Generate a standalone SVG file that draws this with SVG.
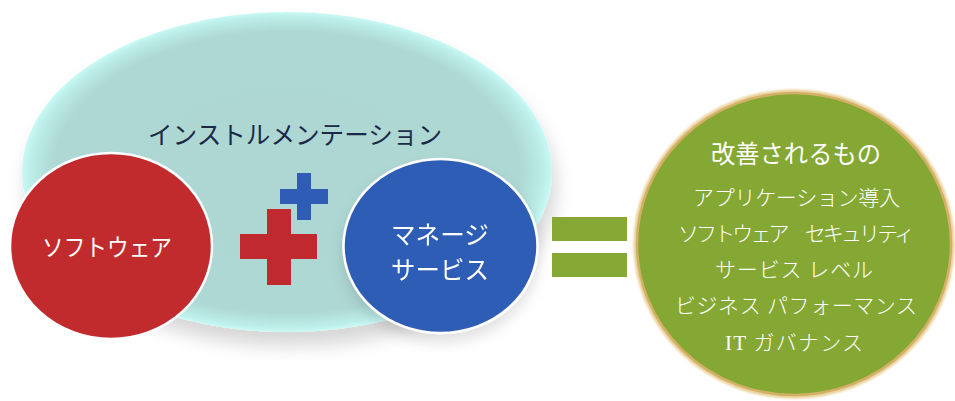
<svg xmlns="http://www.w3.org/2000/svg" width="955" height="401" viewBox="0 0 955 401">
  <defs>
    <radialGradient id="tealFill" cx="0.5" cy="0.5" r="0.5">
      <stop offset="0" stop-color="#aed7d3"/>
      <stop offset="0.88" stop-color="#aed8d4"/>
      <stop offset="0.97" stop-color="#bdeee9"/>
      <stop offset="1" stop-color="#c8faf5"/>
    </radialGradient>
    <filter id="shadow" x="-20%" y="-20%" width="140%" height="150%">
      <feDropShadow dx="4" dy="14" stdDeviation="9" flood-color="#000" flood-opacity="0.16"/>
    </filter>
    <filter id="softShadow" x="-20%" y="-20%" width="140%" height="150%">
      <feDropShadow dx="0" dy="8" stdDeviation="7" flood-color="#000" flood-opacity="0.12"/>
    </filter>
    <filter id="glow" x="-10%" y="-10%" width="120%" height="120%">
      <feGaussianBlur stdDeviation="1.2"/>
    </filter>
    <style>
      .sans { font-family: "Noto Sans CJK JP", "Noto Sans", sans-serif; }
      .serif { font-family: "Liberation Serif", "Noto Sans CJK JP", serif; font-weight: 300; }
      .white { fill: #ffffff; }
      .ring { stroke: #ffffff; stroke-width: 2.5; }
    </style>
  </defs>

  <g id="instrumentation">
    <ellipse cx="287" cy="172" rx="265" ry="160" fill="url(#tealFill)" filter="url(#shadow)"/>
    <text class="sans" x="295" y="144" font-size="25" fill="#1b2a47" text-anchor="middle" textLength="294" lengthAdjust="spacingAndGlyphs">インストルメンテーション</text>
  </g>

  <g id="connectors">
    <g id="plus-blue" fill="#2f5db6">
      <rect x="297" y="173" width="14" height="47"/>
      <rect x="280" y="189" width="48" height="15"/>
    </g>
    <g id="plus-red" fill="#c0292d">
      <rect x="267" y="209" width="24" height="76"/>
      <rect x="240" y="234" width="77" height="25"/>
    </g>
    <g id="equals" fill="#86a936">
      <rect x="552" y="217" width="75" height="24"/>
      <rect x="552" y="253" width="75" height="24"/>
    </g>
  </g>

  <g id="software">
    <ellipse class="ring" cx="111" cy="246" rx="101" ry="93" fill="#c22b2d"/>
    <text class="sans white" x="107" y="256" font-size="24" text-anchor="middle" textLength="130" lengthAdjust="spacingAndGlyphs">ソフトウェア</text>
  </g>

  <g id="managed-services" filter="url(#softShadow)">
    <ellipse class="ring" cx="440.5" cy="246" rx="97" ry="87" fill="#2f5db6"/>
    <text class="sans white" x="440" y="244" font-size="25" text-anchor="middle" textLength="98" lengthAdjust="spacingAndGlyphs">マネージ</text>
    <text class="sans white" x="440" y="279" font-size="25" text-anchor="middle" textLength="98" lengthAdjust="spacingAndGlyphs">サービス</text>
  </g>

  <g id="improvements">
    <ellipse cx="794" cy="244" rx="158.5" ry="152.5" fill="none" stroke="#e8cf95" stroke-width="4" filter="url(#glow)"/>
    <ellipse cx="794" cy="244" rx="157" ry="151" fill="#84a833" stroke="#d4b067" stroke-width="2.5"/>
    <text class="sans white" x="796" y="163" font-size="25" text-anchor="middle" textLength="170" lengthAdjust="spacingAndGlyphs">改善されるもの</text>
    <text class="serif white" x="796.5" y="205" font-size="21" text-anchor="middle" textLength="207">アプリケーション導入</text>
    <text class="serif white" x="796.5" y="241" font-size="21" text-anchor="middle" textLength="237">ソフトウェア　セキュリティ</text>
    <text class="serif white" x="794" y="277" font-size="21" text-anchor="middle" textLength="158">サービス レベル</text>
    <text class="serif white" x="796" y="313" font-size="21" text-anchor="middle" textLength="242">ビジネス パフォーマンス</text>
    <text class="serif white" x="794" y="350" font-size="21" text-anchor="middle" textLength="138">IT ガバナンス</text>
  </g>
</svg>
